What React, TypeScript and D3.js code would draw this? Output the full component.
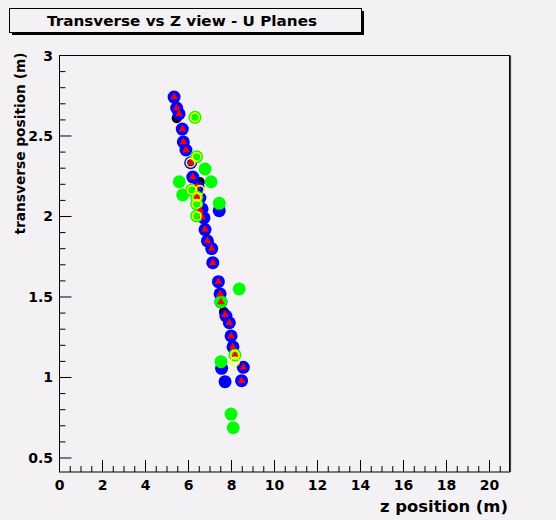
import React from "react";
import * as d3 from "d3";

// Hit positions in the U planes: [z (m), transverse (m)]
const blueHits: [number, number][] = [
  [5.33, 2.742], [5.45, 2.674], [5.56, 2.637], [5.71, 2.543], [5.76, 2.463],
  [5.88, 2.413], [6.10, 2.334], [6.20, 2.245], [6.44, 2.183], [6.53, 2.115],
  [6.63, 2.047], [6.72, 1.991], [6.77, 1.919], [6.88, 1.848], [7.08, 1.801],
  [7.13, 1.713], [7.39, 1.595], [7.47, 1.519], [7.51, 1.469], [7.74, 1.382],
  [7.90, 1.340], [7.98, 1.258], [8.07, 1.190], [8.55, 1.063], [8.47, 0.980],
  [7.54, 1.057], [7.70, 0.974], [7.43, 2.036],
];

const trackHits: [number, number][] = [
  [5.33, 2.742], [5.45, 2.674], [5.56, 2.637], [5.71, 2.543], [5.76, 2.463],
  [5.88, 2.413], [6.10, 2.334], [6.20, 2.245], [6.40, 2.186], [6.40, 2.121],
  [6.54, 2.040], [6.63, 1.997], [6.77, 1.919], [6.88, 1.848], [7.08, 1.801],
  [7.13, 1.713], [7.39, 1.595], [7.47, 1.519], [7.51, 1.469], [7.70, 1.390],
  [7.90, 1.340], [7.98, 1.258], [8.07, 1.190], [8.16, 1.140], [8.55, 1.063],
  [8.47, 0.980],
];

const greenHits: [number, number][] = [
  [6.30, 2.616], [6.38, 2.371], [6.77, 2.295], [5.57, 2.216], [7.05, 2.216],
  [6.15, 2.165], [5.73, 2.134], [6.38, 2.121], [6.38, 2.078], [7.43, 2.082],
  [6.38, 2.003], [8.36, 1.550], [7.51, 1.471], [8.16, 1.140], [7.51, 1.098],
  [7.98, 0.773], [8.08, 0.688],
];

const yellowHits: [number, number][] = [
  [6.30, 2.616], [6.38, 2.371], [6.10, 2.334], [6.15, 2.165], [6.53, 2.165],
  [6.38, 2.121], [6.38, 2.078], [6.38, 2.003], [8.16, 1.140], [8.16, 1.098],
];

const blackHits: [number, number][] = [
  [5.45, 2.610], [6.53, 2.214], [7.65, 1.407],
];

const xMajorTicks = [0, 2, 4, 6, 8, 10, 12, 14, 16, 18, 20];
const yMajorTicks = [0.5, 1, 1.5, 2, 2.5, 3];
const xDomain: [number, number] = [0, 20.93];
const yDomain: [number, number] = [0.413, 3];

const titleText = "Transverse vs Z view - U Planes";
const xTitle = "z position (m)";
const yTitle = "transverse position (m)";

const W = 556;
const H = 520;
const frame = { left: 59.5, right: 509.5, top: 55.5, bottom: 472 };
const bg = "#f4f1f4";
const font = "'DejaVu Sans', 'Liberation Sans', Arial, sans-serif";

export default function App() {
  const x = d3.scaleLinear().domain(xDomain).range([frame.left, frame.right]);
  const y = d3.scaleLinear().domain(yDomain).range([frame.bottom, frame.top]);

  const xMinor = d3.range(0, xDomain[1] + 1e-9, 0.5);
  const yMinor = d3.range(0.5, 3 + 1e-9, 0.1);

  const tri = d3.symbol().type(d3.symbolTriangle).size(26)();

  return (
    <svg
      width={W}
      height={H}
      style={{ position: "absolute", left: 0, top: 0, display: "block" }}
      fontFamily={font}
    >
      <rect x={0} y={0} width={W} height={H} fill={bg} />

      {/* title pave with shadow */}
      <rect x={12} y={11} width={352} height={24} fill="#000" />
      <rect x={9.5} y={8.5} width={352} height={24} fill={bg} stroke="#000" strokeWidth={1} />
      <text
        x={182}
        y={26}
        textAnchor="middle"
        fontSize={13.5}
        fontWeight="bold"
        fill="#000"
        textLength={270}
        lengthAdjust="spacingAndGlyphs"
      >
        {titleText}
      </text>

      {/* frame */}
      <rect
        x={frame.left}
        y={frame.top}
        width={frame.right - frame.left}
        height={frame.bottom - frame.top}
        fill={bg}
        stroke="#000"
        strokeWidth={1}
      />
      <line x1={frame.right + 1} x2={frame.right + 1} y1={frame.top} y2={frame.bottom} stroke="#444" strokeWidth={1.2} />

      {/* x axis ticks */}
      {xMinor.map((v, i) => {
        const major = Math.abs(v / 2 - Math.round(v / 2)) < 1e-6;
        return (
          <line
            key={"xt" + i}
            x1={x(v)}
            x2={x(v)}
            y1={frame.bottom}
            y2={frame.bottom - (major ? 12 : 6)}
            stroke="#000"
            strokeWidth={1}
          />
        );
      })}
      {xMajorTicks.map((v) => (
        <text key={"xl" + v} x={x(v)} y={490} textAnchor="middle" fontSize={14} fontWeight="bold">
          {v}
        </text>
      ))}

      {/* y axis ticks */}
      {yMajorTicks.length > 0 &&
        yMinor.map((v, i) => {
          const major = Math.abs(v * 2 - Math.round(v * 2)) < 1e-6;
          return (
            <line
              key={"yt" + i}
              x1={frame.left}
              x2={frame.left + (major ? 12 : 6)}
              y1={y(v)}
              y2={y(v)}
              stroke="#000"
              strokeWidth={1}
            />
          );
        })}
      {yMajorTicks.map((v) => (
        <text key={"yl" + v} x={53} y={y(v) + 5} textAnchor="end" fontSize={14} fontWeight="bold">
          {v}
        </text>
      ))}

      {/* axis titles */}
      <text
        x={444}
        y={512}
        textAnchor="middle"
        fontSize={15}
        fontWeight="bold"
        textLength={128}
        lengthAdjust="spacingAndGlyphs"
      >
        {xTitle}
      </text>
      <text
        transform={`translate(25, ${frame.top + 88}) rotate(-90)`}
        textAnchor="middle"
        fontSize={14}
        fontWeight="bold"
        textLength={182}
        lengthAdjust="spacingAndGlyphs"
      >
        {yTitle}
      </text>

      {/* markers */}
      {blackHits.map((d, i) => (
        <circle key={"k" + i} cx={x(d[0])} cy={y(d[1])} r={5} fill="#000" />
      ))}
      {blueHits.map((d, i) => (
        <circle key={"b" + i} cx={x(d[0])} cy={y(d[1])} r={6.5} fill="#0000ff" />
      ))}
      {greenHits.map((d, i) => (
        <circle key={"g" + i} cx={x(d[0])} cy={y(d[1])} r={6.5} fill="#00ff00" />
      ))}
      {trackHits.map((d, i) => (
        <path key={"r" + i} d={tri as string} transform={`translate(${x(d[0])},${y(d[1])})`} fill="#ff0000" />
      ))}
      {yellowHits.map((d, i) => (
        <circle
          key={"y" + i}
          cx={x(d[0])}
          cy={y(d[1])}
          r={4.3}
          fill="none"
          stroke="#ffff00"
          strokeWidth={1.6}
        />
      ))}
    </svg>
  );
}
